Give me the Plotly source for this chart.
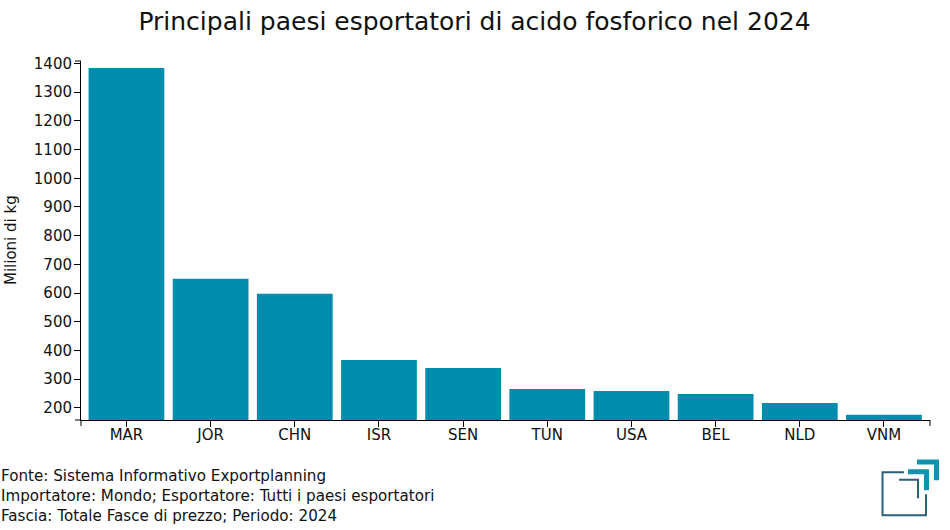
import plotly.graph_objects as go

categories = ["MAR", "JOR", "CHN", "ISR", "SEN", "TUN", "USA", "BEL", "NLD", "VNM"]
values = [1384, 650, 598, 367, 339, 266, 259, 249, 217, 176]
y_ticks = list(range(200, 1500, 100))
title_text = "Principali paesi esportatori di acido fosforico nel 2024"
y_title = "Milioni di kg"
footer_lines = [
    "Fonte: Sistema Informativo Exportplanning",
    "Importatore: Mondo; Esportatore: Tutti i paesi esportatori",
    "Fascia: Totale Fasce di prezzo; Periodo: 2024",
]

W, H = 950, 530
L, R, T, B = 80.5, 930, 60.5, 420.5
FONT = "DejaVu Sans"
BLACK = "#000000"
TEXT = "#111111"


def px(x):
    return (x - L) / (R - L)


def py(y):
    return (B - y) / (B - T)


fig = go.Figure(
    go.Bar(x=categories, y=values, marker=dict(color="#008cad", line=dict(width=0)), width=0.9)
)

shapes = []
for xx in (0, 1):
    shapes.append(dict(type="line", xref="x domain", yref="paper", x0=xx, x1=xx,
                       y0=0, y1=py(B + 6), line=dict(color=BLACK, width=1)))
for yy in (0, 1):
    shapes.append(dict(type="line", xref="paper", yref="y domain", x0=px(L - 6), x1=0,
                       y0=yy, y1=yy, line=dict(color=BLACK, width=1)))


def logo(points, color, width):
    path = "M " + " L ".join(f"{px(a):.5f},{py(b):.5f}" for a, b in points)
    shapes.append(dict(type="path", xref="paper", yref="paper", path=path,
                       line=dict(color=color, width=width), layer="above"))


logo([(904, 473), (882.5, 473), (882.5, 516), (926, 516), (926, 495)], "#2a6079", 2)
logo([(899, 480.5), (918, 480.5), (918, 499)], "#2a6079", 2)
logo([(908, 472.5), (926.5, 472.5), (926.5, 491)], "#1192ae", 5)
logo([(917, 462.5), (936.5, 462.5), (936.5, 481)], "#1192ae", 5)

annotations = [
    dict(text=line, xref="paper", yref="paper", x=px(0), y=py(477 + 20 * i),
         xanchor="left", yanchor="middle", showarrow=False, borderpad=0, borderwidth=0,
         font=dict(family=FONT, size=15.15, color=TEXT))
    for i, line in enumerate(footer_lines)
]
annotations.append(dict(text=y_title, xref="paper", yref="paper", x=px(10), y=py(240.5),
                        xanchor="center", yanchor="middle", textangle=-90, showarrow=False,
                        borderpad=0, borderwidth=0,
                        font=dict(family=FONT, size=15, color=TEXT)))

fig.update_layout(
    width=W, height=H, autosize=False,
    margin=dict(l=L, r=W - R, t=T, b=H - B, pad=0),
    paper_bgcolor="white", plot_bgcolor="white",
    font=dict(family=FONT, size=15, color=TEXT),
    title=dict(text=title_text, x=474.5 / W, xanchor="center", xref="container",
               y=1 - 21 / H, yanchor="middle", font=dict(family=FONT, size=25, color=TEXT)),
    bargap=0.1,
    showlegend=False,
    shapes=shapes,
    annotations=annotations,
    xaxis=dict(range=[-0.54, 9.547], showline=True, linecolor=BLACK, linewidth=1,
               ticks="outside", ticklen=6, tickcolor=BLACK, showgrid=False, zeroline=False,
               ticklabelstandoff=-5,
               tickfont=dict(family=FONT, size=15, color=TEXT), fixedrange=True),
    yaxis=dict(range=[158, 1408.5], tickvals=y_ticks, showline=True, linecolor=BLACK, linewidth=1,
               ticks="outside", ticklen=6, tickcolor=BLACK, showgrid=False, zeroline=False,
               ticklabelstandoff=-1,
               tickfont=dict(family=FONT, size=15, color=TEXT), fixedrange=True),
)

fig.write_html("out.html", config={"displayModeBar": False},
               post_script='document.body.style.margin="0";')
